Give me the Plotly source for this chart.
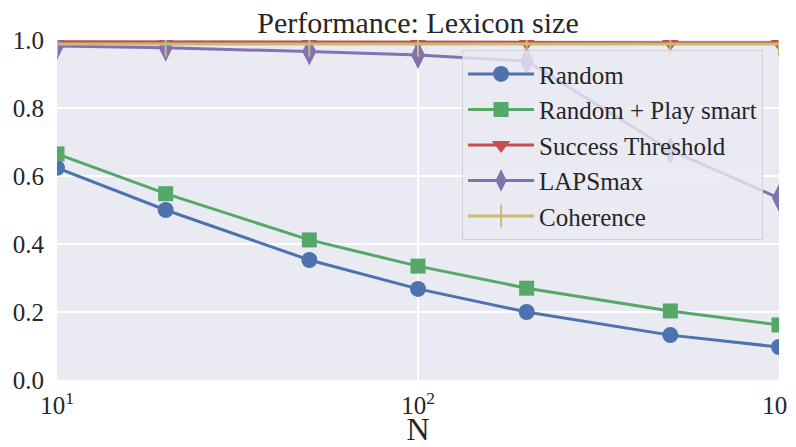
import plotly.graph_objects as go

N = [10, 20, 50, 100, 200, 500, 1000]
random_vals = [0.624, 0.500, 0.353, 0.268, 0.200, 0.132, 0.097]
smart_vals = [0.665, 0.548, 0.412, 0.335, 0.270, 0.203, 0.162]
success_vals = [0.995, 0.995, 0.994, 0.994, 0.993, 0.992, 0.992]
laps_vals = [0.982, 0.977, 0.966, 0.956, 0.938, 0.676, 0.535]
coh_vals = [0.988, 0.988, 0.988, 0.988, 0.988, 0.988, 0.988]

series = [
    ("Random", random_vals, "#4C72B0", "circle", 16),
    ("Random + Play smart", smart_vals, "#55A868", "square", 15),
    ("Success Threshold", success_vals, "#C44E52", "triangle-down", 16),
    ("LAPSmax", laps_vals, "#8172B2", "diamond-tall", 20),
    ("Coherence", coh_vals, "#CCB974", "line-ns-open", 18),
]

fig = go.Figure()
for name, vals, color, sym, size in series:
    fig.add_trace(go.Scatter(
        x=N, y=vals, name=name, mode="lines+markers",
        line=dict(color=color, width=3),
        marker=dict(symbol=sym, size=size, color=color,
                    line=dict(color=color, width=2 if sym == "line-ns-open" else 0)),
    ))

font_family = "'Liberation Serif', 'Times New Roman', 'DejaVu Serif', serif"
fig.update_layout(
    width=788, height=439,
    margin=dict(l=49, r=17, t=32, b=67, autoexpand=False),
    paper_bgcolor="white",
    plot_bgcolor="#EAEAF2",
    font=dict(family=font_family, size=25, color="#262626"),
    title=dict(text="Performance: Lexicon size", x=0.5, xref="paper", xanchor="center",
               y=0.968, yanchor="middle", font=dict(family=font_family, size=30, color="#262626")),
    legend=dict(x=0.561, y=0.97, xanchor="left", yanchor="top",
                bgcolor="rgba(234,234,242,0.8)", bordercolor="rgba(204,204,204,0.8)",
                borderwidth=1, font=dict(family=font_family, size=25), tracegroupgap=0, itemwidth=66),
    xaxis=dict(type="log", range=[1, 3], showgrid=True, gridcolor="white", gridwidth=1.5,
               tickvals=[10, 100, 1000],
               ticktext=["10<sup>1</sup>", "10<sup>2</sup>", "10<sup>3</sup>"],
               zeroline=False, showline=False, ticks="", automargin=False,
               ticklabelstandoff=8, ticklabeloverflow="allow",
               tickfont=dict(family=font_family, size=25),
               title=dict(text="N", font=dict(family=font_family, size=32), standoff=10)),
    yaxis=dict(range=[0, 1], showgrid=True, gridcolor="white", gridwidth=1.5,
               tickvals=[0, 0.2, 0.4, 0.6, 0.8, 1.0],
               ticktext=["0.0", "0.2", "0.4", "0.6", "0.8", "1.0"],
               zeroline=False, showline=False, ticks="", automargin=False,
               ticklabelstandoff=12,
               tickfont=dict(family=font_family, size=25)),
)

fig.write_html("out.html")
